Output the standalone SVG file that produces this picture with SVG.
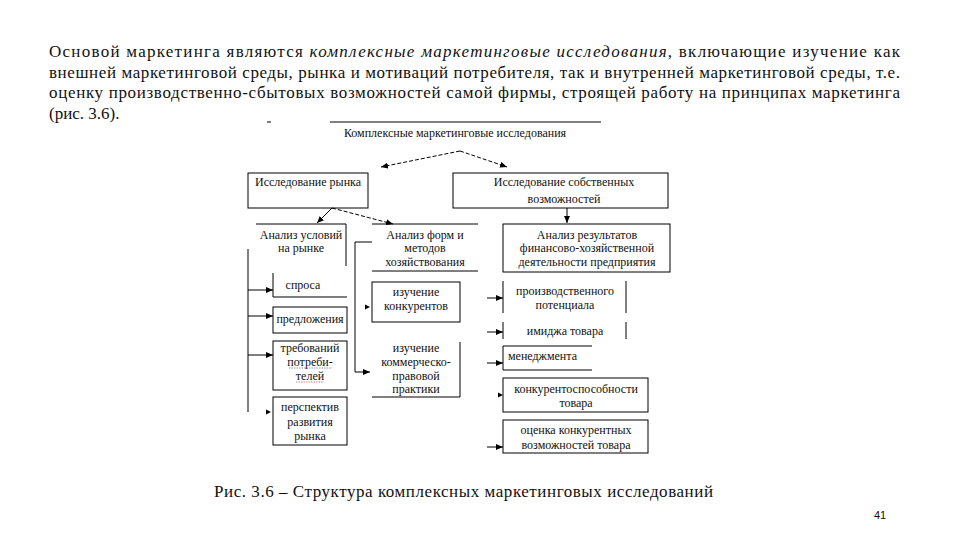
<svg xmlns="http://www.w3.org/2000/svg" width="960" height="540" viewBox="0 0 960 540">
<defs>
<marker id="ah" markerUnits="userSpaceOnUse" markerWidth="8" markerHeight="6" refX="7" refY="3" orient="auto">
<path d="M0,0 L7,3 L0,6 z" fill="#000"/>
</marker>
<style>
.p{font-size:17px;fill:#111}
.i{font-style:italic}
.t{font-size:12px;fill:#111}
.c{text-anchor:middle}
.ln{stroke:#000;stroke-width:1;fill:none}
.ar{stroke:#000;stroke-width:1;fill:none;marker-end:url(#ah)}
.da{stroke:#000;stroke-width:1;fill:none;stroke-dasharray:4,2;marker-end:url(#ah)}
.bx{stroke:#000;stroke-width:1;fill:none}
</style>
</defs>
<rect width="960" height="540" fill="#fff"/>
<g font-family="Liberation Serif, Times New Roman, serif">
<g id="paragraph">
<text class="p" x="49" y="57" textLength="851" lengthAdjust="spacing">Основой маркетинга являются <tspan class="i">комплексные маркетинговые исследования</tspan>, включающие изучение как</text>
<text class="p" x="49" y="78" textLength="851" lengthAdjust="spacing">внешней маркетинговой среды, рынка и мотиваций потребителя, так и внутренней маркетинговой среды, т.е.</text>
<text class="p" x="49" y="98" textLength="851" lengthAdjust="spacing">оценку производственно-сбытовых возможностей самой фирмы, строящей работу на принципах маркетинга</text>
<text class="p" x="49" y="119">(рис. 3.6).</text>
</g>

<g id="n-root">
<line class="ln" x1="267" y1="122" x2="271" y2="122"/>
<line class="ln" x1="330" y1="122" x2="601" y2="122"/>
<text class="t c" x="455" y="137">Комплексные маркетинговые исследования</text>
</g>

<g id="n-market">
<rect class="bx" x="248" y="173" width="120" height="35"/>
<text class="t" x="255" y="186">Исследование рынка</text>
</g>

<g id="n-own">
<rect class="bx" x="453" y="173" width="215" height="35"/>
<text class="t c" x="564" y="186">Исследование собственных</text>
<text class="t c" x="564" y="203">возможностей</text>
</g>

<g id="n-cond">
<polyline class="ln" points="256,224 346,224 346,266"/>
<text class="t c" x="301" y="239">Анализ условий</text>
<text class="t c" x="301" y="252">на рынке</text>
</g>

<g id="n-demand">
<polyline class="ln" points="273,273 273,297 347,297"/>
<text class="t c" x="303" y="289">спроса</text>
</g>

<g id="n-supply">
<rect class="bx" x="273" y="307" width="74" height="26"/>
<text class="t c" x="310" y="323">предложения</text>
</g>

<g id="n-req">
<rect class="bx" x="273" y="341" width="74" height="49"/>
<text class="t c" x="310" y="352">требований</text>
<text class="t c" x="310" y="366">потреби-</text>
<text class="t c" x="310" y="380">телей</text>
<line x1="289" y1="368" x2="332" y2="368" stroke="#6a7ab0" stroke-width="0.8" stroke-dasharray="1.5,1"/>
<line x1="296" y1="382" x2="324" y2="382" stroke="#b06a6a" stroke-width="0.8" stroke-dasharray="1.5,1"/>
</g>

<g id="n-persp">
<rect class="bx" x="273" y="397" width="74" height="48"/>
<text class="t c" x="310" y="411">перспектив</text>
<text class="t c" x="310" y="426">развития</text>
<text class="t c" x="310" y="440">рынка</text>
</g>

<g id="n-forms">
<line class="ln" x1="372" y1="224" x2="478" y2="224"/>
<line class="ln" x1="372" y1="271" x2="478" y2="271"/>
<text class="t c" x="425" y="239">Анализ форм и</text>
<text class="t c" x="425" y="252">методов</text>
<text class="t c" x="425" y="266">хозяйствования</text>
</g>

<g id="n-compet">
<rect class="bx" x="372" y="282" width="88" height="40"/>
<text class="t c" x="416" y="296">изучение</text>
<text class="t c" x="416" y="310">конкурентов</text>
</g>

<g id="n-legal">
<polyline class="ln" points="460,342 460,397 372,397"/>
<text class="t c" x="416" y="352">изучение</text>
<text class="t c" x="416" y="366">коммерческо-</text>
<text class="t c" x="416" y="380">правовой</text>
<text class="t c" x="416" y="393">практики</text>
</g>

<g id="n-results">
<rect class="bx" x="503" y="224" width="167" height="48"/>
<text class="t c" x="587" y="239">Анализ результатов</text>
<text class="t c" x="587" y="252">финансово-хозяйственной</text>
<text class="t c" x="587" y="266">деятельности предприятия</text>
</g>

<g id="n-potential">
<line class="ln" x1="503" y1="281" x2="503" y2="313"/>
<line class="ln" x1="626" y1="281" x2="626" y2="313"/>
<text class="t c" x="565" y="295">производственного</text>
<text class="t c" x="565" y="309">потенциала</text>
</g>

<g id="n-image">
<line class="ln" x1="503" y1="322" x2="503" y2="339"/>
<line class="ln" x1="626" y1="322" x2="626" y2="339"/>
<text class="t c" x="565" y="335">имиджа товара</text>
</g>

<g id="n-mgmt">
<polyline class="ln" points="592,346 503,346 503,370 592,370"/>
<text class="t" x="508" y="360">менеджмента</text>
</g>

<g id="n-compet2">
<rect class="bx" x="503" y="378" width="145" height="34"/>
<text class="t c" x="576" y="393">конкурентоспособности</text>
<text class="t c" x="576" y="407">товара</text>
</g>

<g id="n-eval">
<rect class="bx" x="503" y="420" width="145" height="33"/>
<text class="t c" x="576" y="434">оценка конкурентных</text>
<text class="t c" x="576" y="449">возможностей товара</text>
</g>

<g id="caption">
<text class="p" x="214" y="497" textLength="499" lengthAdjust="spacing">Рис. 3.6 – Структура комплексных маркетинговых исследований</text>
<text x="880" y="519" text-anchor="middle" font-family="Liberation Sans, Arial, sans-serif" font-size="11" fill="#111">41</text>
</g>
</g>

<g id="connectors">
<line class="da" x1="460" y1="151" x2="381" y2="167"/>
<line class="da" x1="460" y1="151" x2="507" y2="167"/>
<line class="ar" x1="567" y1="208" x2="567" y2="223"/>
<line class="ar" x1="332" y1="208" x2="317" y2="223"/>
<line class="da" x1="332" y1="208" x2="393" y2="224"/>
<line class="ln" x1="248" y1="249" x2="248" y2="412"/>
<line class="ar" x1="248" y1="290" x2="273" y2="290"/>
<line class="ar" x1="248" y1="316" x2="273" y2="316"/>
<line class="ar" x1="248" y1="355" x2="273" y2="355"/>
<path d="M266,409.5 L271,412 L266,414.5 z" fill="#000"/>
<polyline class="ln" points="372,242 355,242 355,372"/>
<line class="ar" x1="355" y1="372" x2="370" y2="372"/>
<path d="M365,304.5 L370,307 L365,309.5 z" fill="#000"/>
<line class="ar" x1="487" y1="298" x2="503" y2="298"/>
<line class="ar" x1="487" y1="332" x2="503" y2="332"/>
<line class="ar" x1="487" y1="363" x2="503" y2="363"/>
<path d="M498,392.5 L503,395 L498,397.5 z" fill="#000"/>
<line class="ar" x1="487" y1="447" x2="503" y2="447"/>
</g>
</svg>
